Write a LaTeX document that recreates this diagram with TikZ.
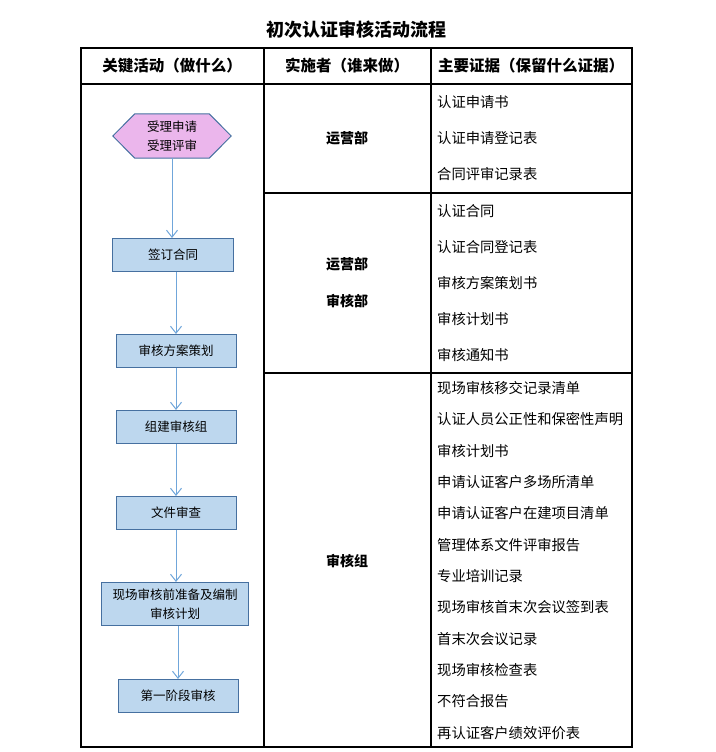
\documentclass[tikz,border=0pt]{standalone}
\usepackage{fontspec}
\setmainfont{Noto Sans CJK SC}
\usetikzlibrary{arrows.meta,backgrounds}
\definecolor{boxfill}{RGB}{189,215,238}
\definecolor{boxline}{RGB}{70,112,160}
\definecolor{hexfill}{RGB}{235,182,236}
\definecolor{flowline}{RGB}{112,166,218}
\tikzset{
  blk/.style={draw=boxline,fill=boxfill,line width=1pt,align=center,
              inner sep=2pt,font=\fontsize{12.5}{19}\selectfont,minimum height=33},
  hexa/.style={align=center,inner sep=2pt,font=\fontsize{12.5}{19}\selectfont,
               minimum width=118,minimum height=44},
  hexline/.style={draw=boxline,fill=hexfill,line width=1pt},
  flow/.style={-{Straight Barb[length=7pt,width=11pt]},line width=1pt,draw=flowline},
  grid/.style={draw=black,line width=1.2pt},
  hdr/.style={font=\fontsize{15.5}{18}\selectfont\bfseries},
  who/.style={font=\fontsize{14}{37}\selectfont\bfseries,align=center},
  ev/.style={anchor=west,font=\fontsize{14.3}{17}\selectfont,inner sep=0pt},
}

\begin{document}
\begin{tikzpicture}[x=1pt,y=-1pt]
  \useasboundingbox (0,0) rectangle (715,752);
  \node[font=\fontsize{18}{21}\selectfont\bfseries] (title) at (356,30)
        {初次认证审核活动流程};

  % table
  \draw[grid] (81,48) rectangle (632,747);
  \draw[grid] (81,84) -- (632,84);
  \draw[grid] (264,193) -- (632,193);
  \draw[grid] (264,373) -- (632,373);
  \draw[grid] (264,48) -- (264,747);
  \draw[grid] (431,48) -- (431,747);
  \node[hdr] (h1) at (172,66) {关键活动（做什么）};
  \node[hdr] (h2) at (347,66) {实施者（谁来做）};
  \node[hdr] (h3) at (531,66) {主要证据（保留什么证据）};

  % activities
  \node[hexa] (slsq) at (172,136) {受理申请\\受理评审};
  \begin{scope}[on background layer]
    \draw[hexline] (slsq.west) -- ([xshift=22]slsq.north west)
      -- ([xshift=-22]slsq.north east) -- (slsq.east)
      -- ([xshift=-22]slsq.south east) -- ([xshift=22]slsq.south west) -- cycle;
  \end{scope}
  \node[blk,minimum width=121] (qdht) at (173,255) {签订合同};
  \node[blk,minimum width=120] (fach) at (176,351) {审核方案策划};
  \node[blk,minimum width=120] (zjsh) at (176,427) {组建审核组};
  \node[blk,minimum width=120] (wjsc) at (176,513) {文件审查};
  \node[blk,minimum width=147,minimum height=43] (xczb) at (175,604)
        {现场审核前准备及编制\\审核计划};
  \node[blk,minimum width=120] (dyjd) at (178,696) {第一阶段审核};

  \draw[flow] (slsq.south) -- (slsq.south |- qdht.north);
  \draw[flow] (qdht.south -| fach.north) -- (fach.north);
  \draw[flow] (fach) -- (zjsh);
  \draw[flow] (zjsh) -- (wjsc);
  \draw[flow] (wjsc.south) -- (wjsc.south |- xczb.north);
  \draw[flow] (xczb.south -| dyjd.north) -- (dyjd.north);

  % who
  \node[who] (w1) at (347,138) {运营部};
  \node[who] (w2) at (347,283) {运营部\\审核部};
  \node[who] (w3) at (347,561) {审核组};

  % evidence
  \foreach \t [count=\i from 0] in {认证申请书,认证申请登记表,合同评审记录表}
    \node[ev] (ea\i) at (437,102+36*\i) {\t};
  \foreach \t [count=\i from 0] in {认证合同,认证合同登记表,审核方案策划书,
                                    审核计划书,审核通知书}
    \node[ev] (eb\i) at (437,211+36*\i) {\t};
  \foreach \t [count=\i from 0] in {现场审核移交记录清单,认证人员公正性和保密性声明,
      审核计划书,申请认证客户多场所清单,申请认证客户在建项目清单,
      管理体系文件评审报告,专业培训记录,现场审核首末次会议签到表,
      首末次会议记录,现场审核检查表,不符合报告,再认证客户绩效评价表}
    \node[ev] (ec\i) at (437,388+31.36*\i) {\t};
\end{tikzpicture}
\end{document}
